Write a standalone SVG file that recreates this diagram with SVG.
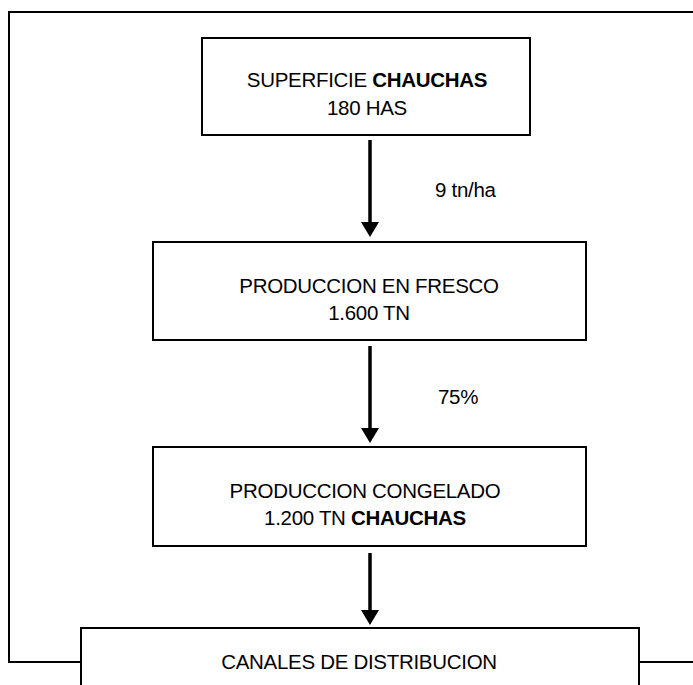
<svg xmlns="http://www.w3.org/2000/svg" width="693" height="685" viewBox="0 0 693 685">
<defs>
<style>
.box{fill:#fff;stroke:#000;stroke-width:2}
.t{font-family:"Liberation Sans",Arial,sans-serif;font-size:20.5px;letter-spacing:-0.3px;fill:#000;text-anchor:middle}
.b{font-weight:bold}
.lbl{font-family:"Liberation Sans",Arial,sans-serif;font-size:20.5px;letter-spacing:-0.3px;fill:#000}
.ln{fill:none;stroke:#000;stroke-width:2}
.arr{stroke:#000;stroke-width:3.5;fill:none}
.head{fill:#000}
</style>
</defs>
<rect width="693" height="685" fill="#fff"/>
<g id="connectors">
<polyline class="ln" points="81,662 9,662 9,12 693,12"/>
<line class="ln" x1="639" y1="662" x2="693" y2="662"/>
<line class="arr" x1="370" y1="140" x2="370" y2="224"/>
<polygon class="head" points="361,222 379,222 370,237"/>
<line class="arr" x1="370" y1="346" x2="370" y2="430"/>
<polygon class="head" points="361,428 379,428 370,443"/>
<line class="arr" x1="370" y1="553" x2="370" y2="612"/>
<polygon class="head" points="361,610 379,610 370,625"/>
<text class="lbl" x="435" y="197">9 tn/ha</text>
<text class="lbl" x="438" y="404">75%</text>
</g>
<g id="superficie">
<rect class="box" x="202" y="38" width="328" height="97"/>
<text class="t" x="367" y="87">SUPERFICIE <tspan class="b">CHAUCHAS</tspan></text>
<text class="t" x="367" y="115">180 HAS</text>
</g>
<g id="fresco">
<rect class="box" x="153" y="242" width="433" height="98"/>
<text class="t" x="369" y="293">PRODUCCION EN FRESCO</text>
<text class="t" x="369" y="320">1.600 TN</text>
</g>
<g id="congelado">
<rect class="box" x="153" y="447" width="433" height="99"/>
<text class="t" x="365" y="498">PRODUCCION CONGELADO</text>
<text class="t" x="365" y="525">1.200 TN <tspan class="b">CHAUCHAS</tspan></text>
</g>
<g id="canales">
<rect class="box" x="81" y="628" width="558" height="80"/>
<text class="t" x="359" y="669">CANALES DE DISTRIBUCION</text>
</g>
</svg>
